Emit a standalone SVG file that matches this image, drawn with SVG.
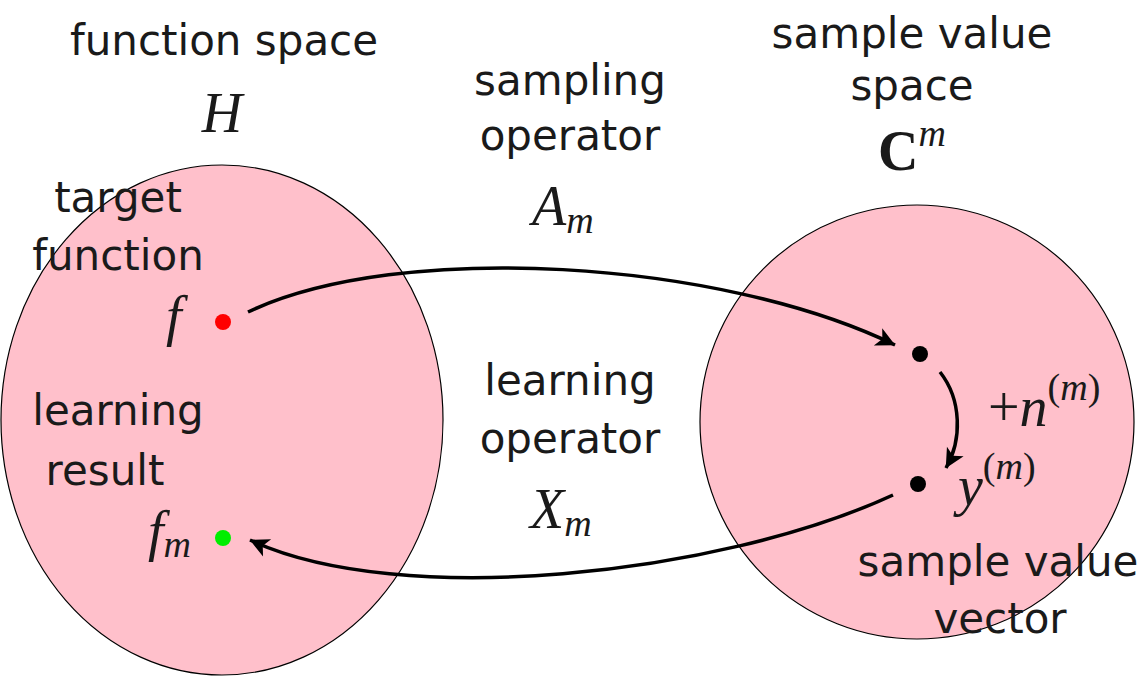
<svg xmlns="http://www.w3.org/2000/svg" width="1146" height="677" viewBox="0 0 1146 677">
<style>
.t{font-family:"DejaVu Sans","Liberation Sans",sans-serif;font-size:42px;fill:#1a1a1a;text-anchor:middle}
.m{font-family:"Liberation Serif","Times New Roman",serif;font-style:italic;font-size:56px;fill:#1a1a1a}
.r{font-family:"Liberation Serif","Times New Roman",serif;font-size:56px;fill:#1a1a1a}
.s{font-size:38px}
.sp{fill:#ffc0cb;stroke:#000;stroke-width:1.2}
.c{fill:none;stroke:#000;stroke-width:3.5}
</style>
<defs>
<marker id="ah" viewBox="0 0 10 10" refX="9" refY="5" markerWidth="6" markerHeight="6" markerUnits="userSpaceOnUse" orient="auto" overflow="visible">
<path d="M0,0 L10,5 L0,10 L2.5,5 Z" fill="#000" transform="scale(3.2) translate(-7,-3.4)"/>
</marker>
</defs>
<g id="space-h">
<ellipse class="sp" cx="222" cy="420" rx="221" ry="255"/>
<text class="t" x="224" y="55">function space</text>
<text class="m" x="222" y="132" text-anchor="middle">H</text>
</g>
<g id="space-c">
<circle class="sp" cx="917" cy="422" r="217"/>
<text class="t" x="912" y="48">sample value</text>
<text class="t" x="912" y="100">space</text>
<text class="r" x="878" y="170" font-weight="bold">C<tspan class="m s" font-weight="normal" dy="-24">m</tspan></text>
</g>
<g id="node-f">
<circle cx="223" cy="322" r="8" fill="#ff0000"/>
<text class="t" x="118" y="212">target</text>
<text class="t" x="118" y="270">function</text>
<text class="m" x="166" y="335">f</text>
</g>
<g id="node-fm">
<circle cx="223" cy="538" r="8" fill="#00ee00"/>
<text class="t" x="118" y="425">learning</text>
<text class="t" x="105" y="485">result</text>
<text class="m" x="148" y="550">f<tspan class="s" dy="7">m</tspan></text>
</g>
<g id="node-am">
<circle cx="920" cy="354" r="8" fill="#000"/>
</g>
<g id="node-y">
<circle cx="918" cy="484" r="8" fill="#000"/>
<text class="m" x="958" y="505">y<tspan class="s" font-style="normal" dy="-26">(</tspan><tspan class="s">m</tspan><tspan class="s" font-style="normal">)</tspan></text>
<text class="t" x="998" y="576">sample value</text>
<text class="t" x="1000" y="633">vector</text>
</g>
<g id="connectors">
<path class="c" d="M248,312 C400,240 720,260 895,345" marker-end="url(#ah)"/>
<path class="c" d="M940,372 C962,400 962,440 946,468" marker-end="url(#ah)"/>
<path class="c" d="M893,495 C720,575 400,610 250,540" marker-end="url(#ah)"/>
<text class="t" x="570" y="95">sampling</text>
<text class="t" x="570" y="150">operator</text>
<text class="m" x="532" y="225">A<tspan class="s" dy="8">m</tspan></text>
<text class="t" x="570" y="395">learning</text>
<text class="t" x="570" y="453">operator</text>
<text class="m" x="530" y="528">X<tspan class="s" dy="8">m</tspan></text>
<text class="r" x="988" y="426">+<tspan class="m">n</tspan><tspan class="s" dy="-26">(</tspan><tspan class="s m">m</tspan><tspan class="s">)</tspan></text>
</g>
</svg>
